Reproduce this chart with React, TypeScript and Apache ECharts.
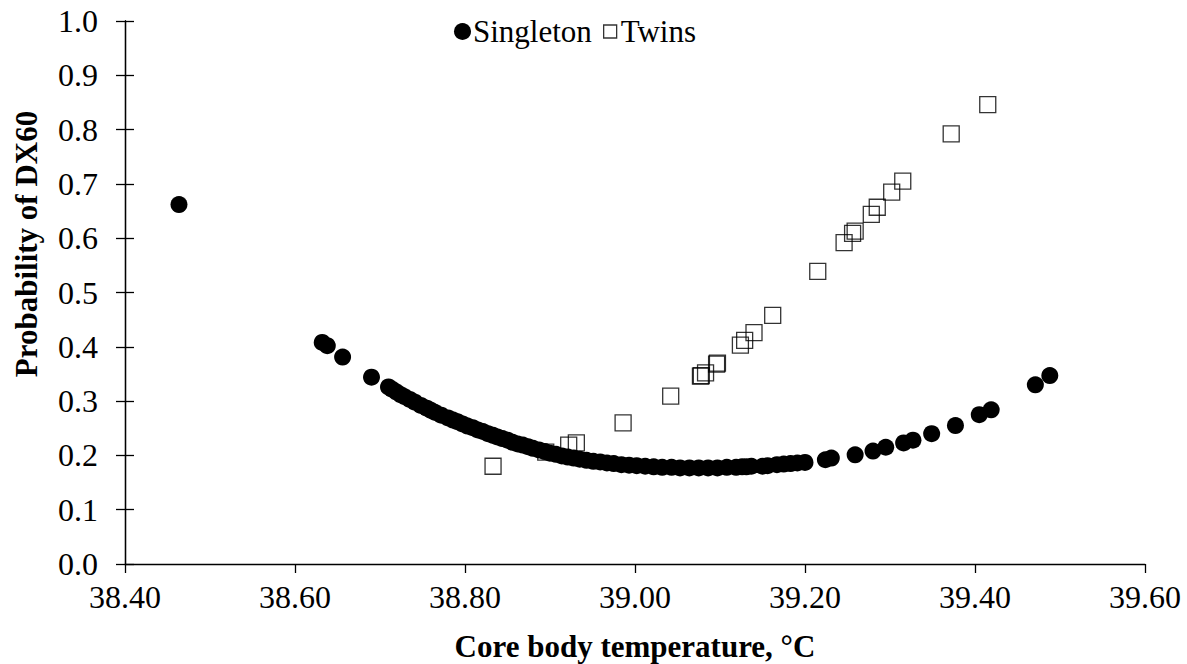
import React, { useEffect, useRef } from "react";
import * as echarts from "echarts";

const FONT = "Liberation Serif";

const xMin = 38.4;
const xMax = 39.6;
const xInterval = 0.2;
const yMin = 0;
const yMax = 1.0;
const yInterval = 0.1;

const singletonTemp = [
  38.4635, 38.632, 38.638, 38.656, 38.69, 38.71, 38.714, 38.719, 38.724, 38.729,
  38.735, 38.741, 38.748, 38.755, 38.76, 38.765, 38.772, 38.78, 38.786, 38.791,
  38.797, 38.803, 38.809, 38.815, 38.821, 38.827, 38.833, 38.838, 38.844, 38.85,
  38.856, 38.862, 38.868, 38.874, 38.88, 38.887, 38.894, 38.9, 38.907, 38.914,
  38.921, 38.928, 38.935, 38.943, 38.951, 38.959, 38.967, 38.975, 38.984, 38.993,
  39.002, 39.012, 39.022, 39.032, 39.043, 39.053, 39.064, 39.075, 39.086, 39.097,
  39.108, 39.119, 39.126, 39.131, 39.137, 39.15, 39.156, 39.167, 39.175, 39.183,
  39.191, 39.2, 39.224, 39.231, 39.259, 39.28, 39.295, 39.316, 39.327, 39.349,
  39.377, 39.405, 39.419, 39.471, 39.488,
];
const singletonProb = [
  0.662, 0.408, 0.402, 0.381, 0.344, 0.326, 0.322, 0.317, 0.312, 0.308,
  0.303, 0.298, 0.292, 0.287, 0.283, 0.279, 0.274, 0.269, 0.265, 0.262,
  0.258, 0.254, 0.251, 0.247, 0.244, 0.24, 0.237, 0.234, 0.231, 0.228,
  0.224, 0.221, 0.219, 0.216, 0.213, 0.21, 0.207, 0.204, 0.202, 0.199,
  0.197, 0.195, 0.193, 0.191, 0.189, 0.188, 0.186, 0.185, 0.183, 0.182,
  0.181, 0.18, 0.179, 0.178, 0.178, 0.177, 0.177, 0.177, 0.177, 0.177,
  0.178, 0.178, 0.179, 0.179, 0.18, 0.18, 0.181, 0.183, 0.184, 0.185,
  0.186, 0.187, 0.192, 0.195, 0.201, 0.208, 0.215, 0.223, 0.228, 0.24,
  0.255, 0.275, 0.284, 0.33, 0.347,
];

const twinsTemp = [
  38.833, 38.895, 38.922, 38.931, 38.986, 39.042, 39.077, 39.078, 39.083, 39.096,
  39.097, 39.124, 39.129, 39.14, 39.162, 39.215, 39.246, 39.256, 39.259, 39.278,
  39.285, 39.302, 39.315, 39.372, 39.415,
];
const twinsProb = [
  0.18, 0.206, 0.219, 0.223, 0.26, 0.309, 0.346, 0.347, 0.352, 0.368,
  0.37, 0.403, 0.412, 0.426, 0.458, 0.539, 0.592, 0.609, 0.613, 0.644,
  0.657, 0.685, 0.705, 0.792, 0.846,
];

const seriesNames = ["Singleton", "Twins"];
const xTitle = "Core body temperature, °C";
const yTitle = "Probability of DX60";

const tickRich = { t: { fontFamily: FONT, fontSize: 32, color: "#000" } };

export default function App() {
  const ref = useRef<HTMLDivElement>(null);
  useEffect(() => {
    if (!ref.current) return;
    const chart = echarts.init(ref.current, undefined, { renderer: "svg" });
    const singleton = singletonTemp.map((t, i) => [t, singletonProb[i]]);
    const twins = twinsTemp.map((t, i) => [t, twinsProb[i]]);
    const axisLine = { show: true, lineStyle: { color: "#000", width: 1.3 } };
    chart.setOption({
      animation: false,
      backgroundColor: "#fff",
      textStyle: { fontFamily: FONT },
      grid: { left: 125, right: 42, top: 21, bottom: 100, containLabel: false },
      legend: [
        {
          data: [{ name: seriesNames[0], icon: "circle" }],
          left: 449,
          top: 11,
          itemWidth: 17,
          itemHeight: 17,
          itemGap: 4,
          textStyle: { fontFamily: FONT, fontSize: 31, color: "#000", padding: [0, 0, 0, -3] },
        },
        {
          data: [
            {
              name: seriesNames[1],
              icon: "rect",
              itemStyle: { color: "rgba(0,0,0,0)", borderColor: "#000", borderWidth: 1.3 },
            },
          ],
          left: 598,
          top: 11,
          itemWidth: 13,
          itemHeight: 13,
          textStyle: { fontFamily: FONT, fontSize: 31, color: "#000", padding: [0, 0, 0, -1] },
        },
      ],
      xAxis: {
        type: "value",
        min: xMin,
        max: xMax,
        interval: xInterval,
        axisLine,
        axisTick: { show: true, inside: false, length: 9, lineStyle: { color: "#000", width: 1.3 } },
        splitLine: { show: false },
        axisLabel: {
          fontFamily: FONT,
          fontSize: 32,
          color: "#000",
          margin: 17,
          rich: tickRich,
          formatter: (v: number) => "{t|" + v.toFixed(2) + "}",
        },
      },
      yAxis: [
        {
          type: "value",
          min: yMin,
          max: yMax,
          interval: yInterval,
          position: "left",
          axisLine,
          axisTick: { show: true, inside: false, length: 9, lineStyle: { color: "#000", width: 1.3 } },
          splitLine: { show: false },
          axisLabel: {
            fontFamily: FONT,
            fontSize: 32,
            color: "#000",
            margin: 27,
            rich: tickRich,
            formatter: (v: number) => "{t|" + v.toFixed(1) + "}",
          },
        },
        {
          type: "value",
          min: yMin,
          max: yMax,
          interval: yInterval,
          position: "left",
          axisLine,
          axisTick: { show: true, inside: true, length: 9, lineStyle: { color: "#000", width: 1.3 } },
          splitLine: { show: false },
          axisLabel: { show: false },
        },
      ],
      graphic: [
        {
          type: "text",
          x: 635,
          y: 646,
          style: {
            text: xTitle,
            fontFamily: FONT,
            fontSize: 31,
            fontWeight: "bold",
            fill: "#000",
            textAlign: "center",
            textVerticalAlign: "middle",
          },
        },
        {
          type: "text",
          x: 26,
          y: 244,
          rotation: Math.PI / 2,
          style: {
            text: yTitle,
            fontFamily: FONT,
            fontSize: 31,
            fontWeight: "bold",
            fill: "#000",
            textAlign: "center",
            textVerticalAlign: "middle",
          },
        },
      ],
      series: [
        {
          name: seriesNames[1],
          type: "scatter",
          symbol: "rect",
          symbolSize: 16,
          data: twins,
          z: 2,
          itemStyle: { color: "rgba(0,0,0,0)", borderColor: "#000", borderWidth: 1.3 },
        },
        {
          name: seriesNames[0],
          type: "scatter",
          symbol: "circle",
          symbolSize: 17,
          data: singleton,
          z: 3,
          itemStyle: { color: "#000", opacity: 1 },
        },
      ],
    });
    return () => chart.dispose();
  }, []);
  return (
    <div
      ref={ref}
      style={{ position: "fixed", left: 0, top: 0, width: 1187, height: 664 }}
    />
  );
}
